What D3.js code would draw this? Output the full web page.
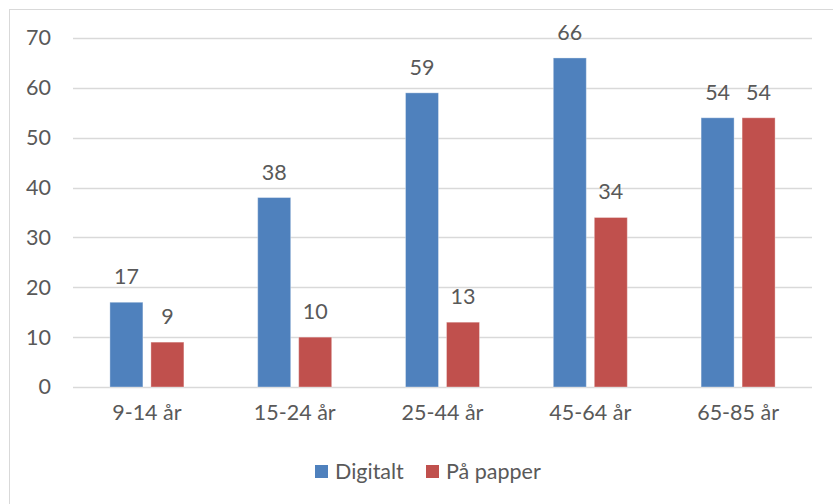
<!DOCTYPE html>
<html>
<head>
<meta charset="utf-8">
<script src="https://cdn.jsdelivr.net/npm/d3@7"></script>
<style>
  body { margin: 0; background: #fff; }
  text { font-family: Lato, "Open Sans", sans-serif; fill: #595959; }
</style>
</head>
<body>
<div id="chart"></div>
<script>
const categories = ["9-14 år", "15-24 år", "25-44 år", "45-64 år", "65-85 år"];
const seriesNames = ["Digitalt", "På papper"];
const digitalt = [17, 38, 59, 66, 54];
const paPapper = [9, 10, 13, 34, 54];
const yTicks = [0, 10, 20, 30, 40, 50, 60, 70];
const colors = ["#4f81bd", "#c0504d"];

const width = 833, height = 504;
const margin = { left: 73, right: 21, top: 38, bottom: 117 };
const fontSize = 21.5;

const svg = d3.select("#chart")
    .append("svg")
    .attr("width", width)
    .attr("height", height);

// chart frame
svg.append("rect")
    .attr("x", 9.5)
    .attr("y", 9.5)
    .attr("width", width)
    .attr("height", height)
    .attr("fill", "none")
    .attr("stroke", "#d9d9d9");

const x = d3.scaleBand()
    .domain(categories)
    .range([margin.left, width - margin.right]);

const xInner = d3.scaleBand()
    .domain(seriesNames)
    .range([-37, 37])
    .paddingInner(0.195);

const y = d3.scaleLinear()
    .domain([0, 70])
    .range([height - margin.bottom, margin.top]);

// gridlines
svg.append("g")
    .selectAll("line")
    .data(yTicks)
    .enter()
    .append("line")
    .attr("x1", margin.left)
    .attr("x2", width - margin.right)
    .attr("y1", d => Math.round(y(d)) + 0.5)
    .attr("y2", d => Math.round(y(d)) + 0.5)
    .style("stroke", "#d9d9d9")
    .style("stroke-width", 1.3);

// y axis labels
const yAxis = svg.append("g")
    .attr("transform", `translate(${margin.left - 22}, 0)`)
    .call(d3.axisLeft(y).tickValues(yTicks).tickSize(0).tickPadding(0));
yAxis.select(".domain").remove();
yAxis.selectAll("text")
    .attr("font-size", fontSize)
    .style("font-family", "Lato, 'Open Sans', sans-serif")
    .attr("fill", "#595959");

// x axis labels
const xAxis = svg.append("g")
    .attr("transform", `translate(0, ${y(0) + 18})`)
    .call(d3.axisBottom(x).tickSize(0).tickPadding(0));
xAxis.select(".domain").remove();
xAxis.selectAll("text")
    .attr("font-size", fontSize)
    .style("font-family", "Lato, 'Open Sans', sans-serif")
    .attr("fill", "#595959");

const rows = categories.map((c, i) => ({
    category: c,
    values: [
        { name: seriesNames[0], value: digitalt[i] },
        { name: seriesNames[1], value: paPapper[i] }
    ]
}));

const groups = svg.selectAll(".group")
    .data(rows)
    .enter()
    .append("g")
    .attr("transform", d => `translate(${x(d.category) + x.bandwidth() / 2}, 0)`);

groups.selectAll("rect")
    .data(d => d.values)
    .enter()
    .append("rect")
    .attr("x", d => xInner(d.name))
    .attr("width", xInner.bandwidth())
    .attr("y", d => y(d.value))
    .attr("height", d => y(0) - y(d.value))
    .attr("fill", (d, i) => colors[i])
    .attr("stroke", "#fff")
    .attr("stroke-opacity", 0.35)
    .attr("stroke-width", 1);

// data labels
groups.selectAll(".label")
    .data(d => d.values)
    .enter()
    .append("text")
    .attr("x", d => xInner(d.name) + xInner.bandwidth() / 2)
    .attr("y", d => y(d.value) - 18)
    .attr("text-anchor", "middle")
    .attr("font-size", fontSize)
    .text(d => d.value);

// legend
const legend = svg.append("g").attr("transform", "translate(315, 465)");
const legendX = [0, 111];
seriesNames.forEach((name, i) => {
    legend.append("rect")
        .attr("x", legendX[i])
        .attr("y", 0)
        .attr("width", 13)
        .attr("height", 13)
        .attr("fill", colors[i]);
    legend.append("text")
        .attr("x", legendX[i] + 20)
        .attr("y", 14)
        .attr("font-size", fontSize)
        .text(name);
});
</script>
</body>
</html>
